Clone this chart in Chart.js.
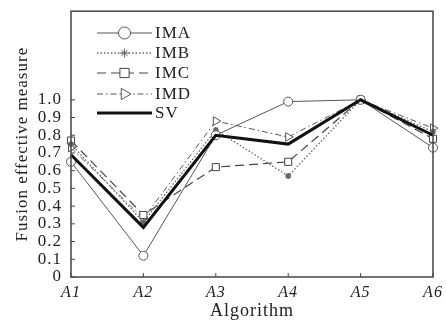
<!DOCTYPE html>
<html>
<head>
<meta charset="utf-8">
<script src="https://cdn.jsdelivr.net/npm/chart.js@4.4.1/dist/chart.umd.min.js"></script>
<style>
  html, body { margin: 0; padding: 0; background: #fff; }
  #wrap { width: 446px; height: 322px; }
</style>
</head>
<body>
<div id="wrap"><canvas id="chart"></canvas></div>
<script>
// data
const algorithms = ["A1", "A2", "A3", "A4", "A5", "A6"];
const imaValues = [0.65, 0.12, 0.80, 0.99, 1.0, 0.73];
const imbValues = [0.75, 0.31, 0.83, 0.57, 1.0, 0.82];
const imcValues = [0.77, 0.35, 0.62, 0.65, 1.0, 0.78];
const imdValues = [0.73, 0.33, 0.88, 0.79, 1.0, 0.84];
const svValues = [0.69, 0.28, 0.80, 0.75, 1.0, 0.80];
const yTicks = [0, 0.1, 0.2, 0.3, 0.4, 0.5, 0.6, 0.7, 0.8, 0.9, 1.0];

const serif = "'Liberation Serif', 'DejaVu Serif', serif";

// the scanned figure has widely spaced type
const spacingPlugin = {
  id: "spacing",
  beforeInit(chart) { chart.ctx.letterSpacing = "1px"; },
  beforeUpdate(chart) { chart.ctx.letterSpacing = "1px"; },
  beforeDraw(chart) { chart.ctx.letterSpacing = "1px"; }
};

// boxed frame, inward ticks and the legend with line samples
const framePlugin = {
  id: "frame",
  afterDraw(chart) {
    const { ctx, chartArea: a, scales } = chart;
    ctx.save();
    ctx.strokeStyle = "#444";
    ctx.lineWidth = 1.5;
    ctx.strokeRect(a.left, a.top, a.right - a.left, a.bottom - a.top);

    ctx.lineWidth = 1;
    yTicks.forEach(v => {
      const y = scales.y.getPixelForValue(v);
      ctx.beginPath();
      ctx.moveTo(a.left, y);
      ctx.lineTo(a.left + 4, y);
      ctx.stroke();
    });
    algorithms.forEach((c, i) => {
      const x = scales.x.getPixelForValue(i);
      ctx.beginPath();
      ctx.moveTo(x, a.bottom);
      ctx.lineTo(x, a.bottom - 4);
      ctx.stroke();
    });

    // legend
    const x0 = 97, x1 = 152, rows = [33, 53, 73, 94, 113];
    chart.data.datasets.forEach((ds, i) => {
      const y = rows[i];
      ctx.save();
      ctx.strokeStyle = ds.borderColor;
      ctx.lineWidth = ds.borderWidth;
      ctx.setLineDash(ds.borderDash || []);
      ctx.beginPath();
      ctx.moveTo(x0, y);
      ctx.lineTo(x1, y);
      ctx.stroke();
      ctx.restore();
      if (ds.pointRadius > 0) {
        ctx.save();
        ctx.strokeStyle = ds.borderColor;
        ctx.fillStyle = ds.backgroundColor;
        ctx.lineWidth = 1;
        Chart.helpers.drawPoint(ctx, {
          pointStyle: ds.pointStyle,
          rotation: ds.pointRotation || 0,
          radius: ds.pointRadius + 1.5,
          borderWidth: 1
        }, (x0 + x1) / 2, y);
        ctx.restore();
      }
      ctx.fillStyle = "#222";
      ctx.font = "17px " + serif;
      ctx.textBaseline = "middle";
      ctx.fillText(ds.label, x1 + 3, y + 1);
    });
    ctx.restore();
  }
};

new Chart(document.getElementById("chart"), {
  type: "line",
  data: {
    labels: algorithms,
    datasets: [
      {
        label: "IMA",
        data: imaValues,
        borderColor: "#555",
        backgroundColor: "#fff",
        borderWidth: 1,
        pointStyle: "circle",
        pointRadius: 4.5,
        pointBorderWidth: 1
      },
      {
        label: "IMB",
        data: imbValues,
        borderColor: "#666",
        backgroundColor: "#333",
        borderWidth: 1.3,
        borderDash: [1.5, 2],
        pointStyle: "star",
        pointRadius: 3,
        pointBorderWidth: 1.5
      },
      {
        label: "IMC",
        data: imcValues,
        borderColor: "#444",
        backgroundColor: "#fff",
        borderWidth: 1.2,
        borderDash: [9, 5],
        pointStyle: "rect",
        pointRadius: 5,
        pointBorderWidth: 1
      },
      {
        label: "IMD",
        data: imdValues,
        borderColor: "#555",
        backgroundColor: "#fff",
        borderWidth: 1,
        borderDash: [6, 3, 1.5, 3],
        pointStyle: "triangle",
        pointRotation: 90,
        pointRadius: 5,
        pointBorderWidth: 1
      },
      {
        label: "SV",
        data: svValues,
        borderColor: "#111",
        backgroundColor: "#111",
        borderWidth: 3,
        pointRadius: 0,
        order: -1
      }
    ]
  },
  options: {
    responsive: true,
    maintainAspectRatio: false,
    animation: false,
    layout: { padding: { top: 8, right: 13, left: 0, bottom: 0 } },
    plugins: {
      legend: { display: false },
      tooltip: { enabled: false }
    },
    elements: { line: { tension: 0 } },
    scales: {
      x: {
        offset: false,
        grid: { display: false },
        border: { display: false },
        ticks: {
          color: "#222",
          font: { family: serif, size: 16, style: "italic" },
          maxRotation: 0,
          padding: -2
        },
        title: {
          display: true,
          text: "Algorithm",
          color: "#222",
          font: { family: serif, size: 18 },
          padding: { top: -4, bottom: 0 }
        },
        afterFit(scale) { scale.height = 45; }
      },
      y: {
        min: 0,
        max: 1.5,
        grid: { display: false },
        border: { display: false },
        ticks: {
          stepSize: 0.1,
          color: "#222",
          font: { family: serif, size: 17 },
          padding: 1,
          callback(v) {
            if (v > 1.001) return null;
            return v === 0 ? "0" : v.toFixed(1);
          }
        },
        title: {
          display: true,
          text: "Fusion effective measure",
          color: "#222",
          font: { family: serif, size: 17 },
          padding: { top: 12, bottom: 0 }
        },
        afterFit(scale) { scale.width = 71; }
      }
    }
  },
  plugins: [spacingPlugin, framePlugin]
});
</script>
</body>
</html>
